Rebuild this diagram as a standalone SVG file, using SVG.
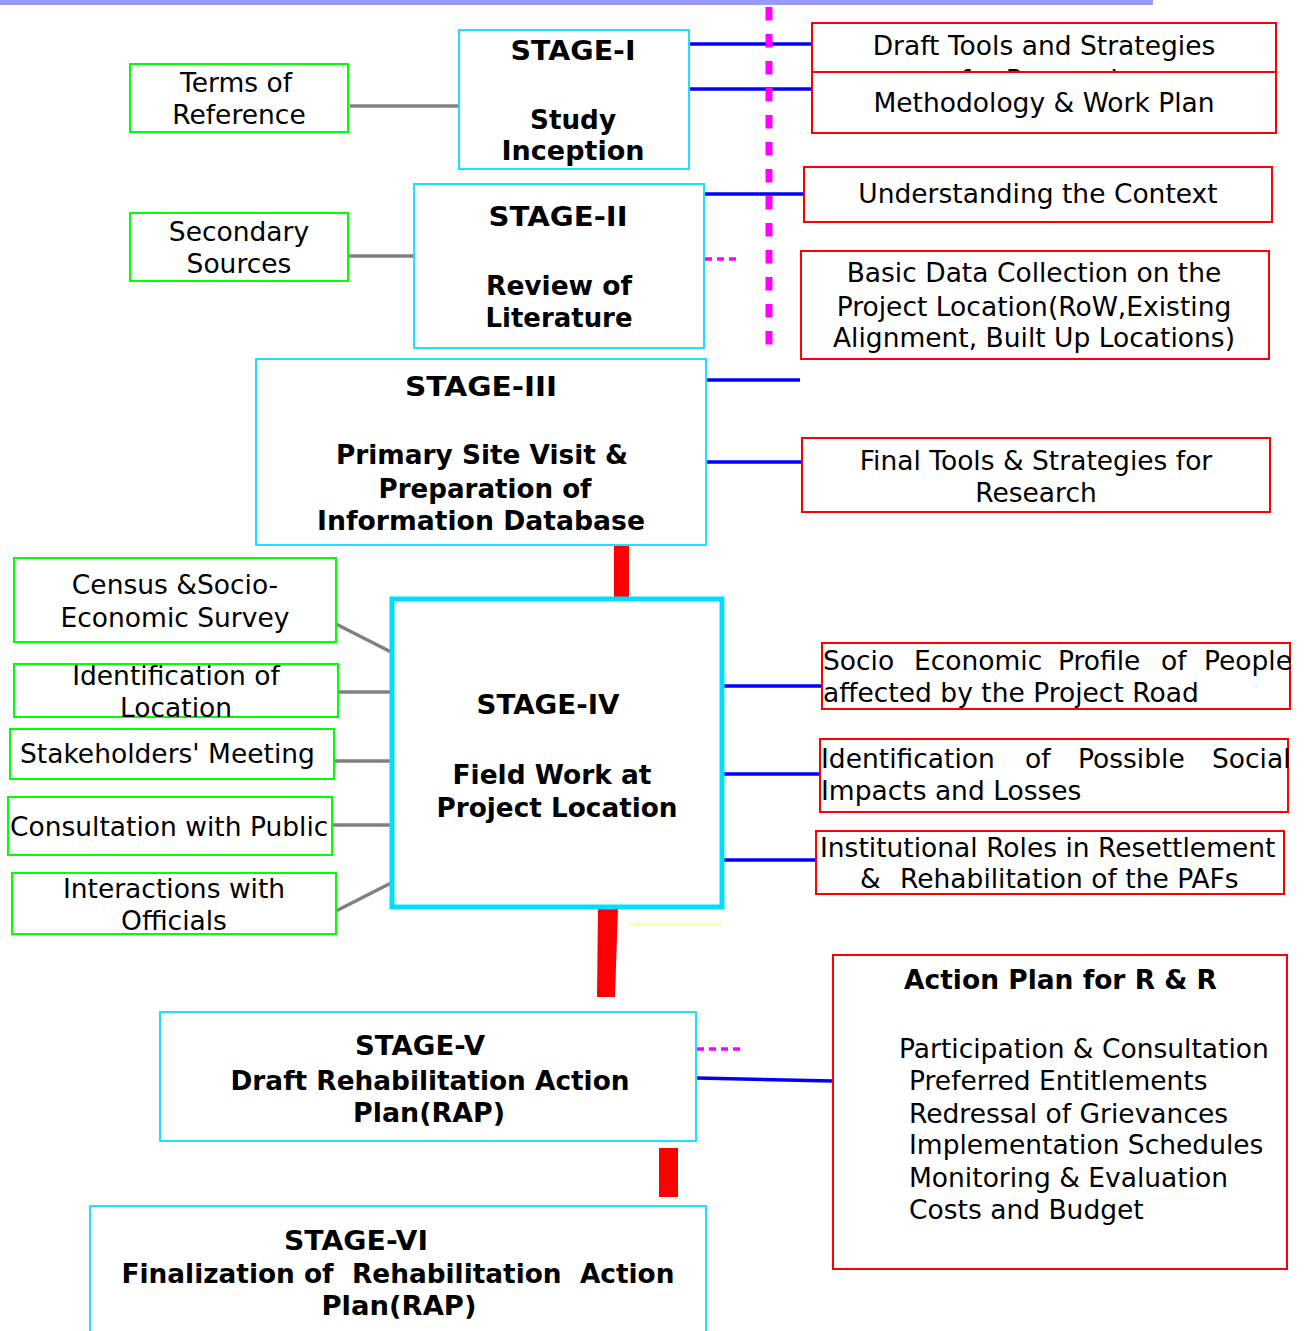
<svg xmlns="http://www.w3.org/2000/svg" width="1305" height="1331" viewBox="0 0 1305 1331">
<style>
.stage{fill:#fff;stroke:#1EE0FF;stroke-width:2}
.stage4{fill:#fff;stroke:#00DDFF;stroke-width:5}
.green{fill:#fff;stroke:#00FF00;stroke-width:2}
.red{fill:#fff;stroke:#FF0000;stroke-width:2}
text{font-family:"DejaVu Sans",Verdana,sans-serif;font-size:26.5px;fill:#000}
.b{font-weight:bold;font-size:26px}
.m{text-anchor:middle}
.pre{white-space:pre}
.blue{stroke:#0000FF;stroke-width:3.5;fill:none}
.gray{stroke:#808080;stroke-width:3.5;fill:none}
.mag{stroke:#FF00FF;fill:none}
.thick{fill:#FF0000}
</style>
<rect x="0" y="0" width="1153" height="5" fill="#9999FF"/>

<g id="connectors">
<line class="gray" x1="350" y1="106" x2="459" y2="106"/>
<line class="gray" x1="348" y1="256" x2="414" y2="256"/>
<line class="gray" x1="336" y1="624" x2="391" y2="652"/>
<line class="gray" x1="338" y1="692" x2="391" y2="692"/>
<line class="gray" x1="334" y1="761" x2="391" y2="761"/>
<line class="gray" x1="332" y1="825" x2="391" y2="825"/>
<line class="gray" x1="336" y1="911" x2="391" y2="883"/>
<line class="blue" x1="689" y1="44" x2="812" y2="44"/>
<line class="blue" x1="689" y1="89" x2="812" y2="89"/>
<line class="blue" x1="704" y1="194" x2="804" y2="194"/>
<line class="blue" x1="706" y1="380" x2="800" y2="380"/>
<line class="blue" x1="706" y1="462" x2="802" y2="462"/>
<line class="blue" x1="722" y1="686" x2="822" y2="686"/>
<line class="blue" x1="722" y1="774" x2="820" y2="774"/>
<line class="blue" x1="722" y1="860" x2="816" y2="860"/>
<line class="blue" x1="697" y1="1078" x2="833" y2="1081"/>
<line class="mag" x1="769" y1="7" x2="769" y2="346" stroke-width="7" stroke-dasharray="13.5 13.5"/>
<line class="mag" x1="705" y1="259" x2="740" y2="259" stroke-width="3.5" stroke-dasharray="7 5"/>
<line class="mag" x1="697" y1="1049" x2="745" y2="1049" stroke-width="3.5" stroke-dasharray="7 5"/>
<line x1="630" y1="924" x2="722" y2="924" stroke="#FFFF99" stroke-width="2"/>
<rect class="thick" x="614" y="545" width="15" height="55"/>
<polygon class="thick" points="598,907 618,907 615,997 597,997"/>
<rect class="thick" x="659" y="1148" width="19" height="49"/>
</g>

<g id="terms">
<rect class="green" x="130" y="64" width="218" height="68"/>
<text class="m" x="236" y="92">Terms of</text>
<text class="m" x="239" y="124">Reference</text>
</g>

<g id="stage1">
<rect class="stage" x="459" y="30" width="230" height="139"/>
<text class="b m" x="573" y="60" textLength="125" lengthAdjust="spacingAndGlyphs">STAGE-I</text>
<text class="b m" x="573" y="129" textLength="86" lengthAdjust="spacingAndGlyphs">Study</text>
<text class="b m" x="573" y="160" textLength="143" lengthAdjust="spacingAndGlyphs">Inception</text>
</g>

<g id="draft-tools">
<rect class="red" x="812" y="23" width="464" height="60"/>
<text class="m" x="1044" y="55">Draft Tools and Strategies</text>
<text class="m" x="1044" y="89">for Research</text>
</g>

<g id="methodology">
<rect class="red" x="812" y="72" width="464" height="61"/>
<text class="m" x="1044" y="112">Methodology &amp; Work Plan</text>
</g>

<g id="secondary">
<rect class="green" x="130" y="213" width="218" height="68"/>
<text class="m" x="239" y="241">Secondary</text>
<text class="m" x="239" y="273">Sources</text>
</g>

<g id="stage2">
<rect class="stage" x="414" y="184" width="290" height="164"/>
<text class="b m" x="558" y="226" textLength="139" lengthAdjust="spacingAndGlyphs">STAGE-II</text>
<text class="b m" x="559" y="295" textLength="146" lengthAdjust="spacingAndGlyphs">Review of</text>
<text class="b m" x="559" y="327" textLength="147" lengthAdjust="spacingAndGlyphs">Literature</text>
</g>

<g id="context">
<rect class="red" x="804" y="167" width="468" height="55"/>
<text class="m" x="1038" y="203">Understanding the Context</text>
</g>

<g id="basic-data">
<rect class="red" x="801" y="251" width="468" height="108"/>
<text class="m" x="1034" y="282">Basic Data Collection on the</text>
<text class="m" x="1034" y="316">Project Location(RoW,Existing</text>
<text class="m" x="1034" y="347">Alignment, Built Up Locations)</text>
</g>

<g id="stage3">
<rect class="stage" x="256" y="359" width="450" height="186"/>
<text class="b m" x="481" y="396" textLength="152" lengthAdjust="spacingAndGlyphs">STAGE-III</text>
<text class="b m" x="482" y="464" textLength="292" lengthAdjust="spacingAndGlyphs">Primary Site Visit &amp;</text>
<text class="b m" x="485" y="498" textLength="213" lengthAdjust="spacingAndGlyphs">Preparation of</text>
<text class="b m" x="481" y="530" textLength="328" lengthAdjust="spacingAndGlyphs">Information Database</text>
</g>

<g id="final-tools">
<rect class="red" x="802" y="438" width="468" height="74"/>
<text class="m" x="1036" y="470">Final Tools &amp; Strategies for</text>
<text class="m" x="1036" y="502">Research</text>
</g>

<g id="census">
<rect class="green" x="14" y="558" width="322" height="84"/>
<text class="m" x="175" y="594">Census &amp;Socio-</text>
<text class="m" x="175" y="627">Economic Survey</text>
</g>

<g id="identification-location">
<rect class="green" x="14" y="664" width="324" height="53"/>
<text class="m" x="176" y="685">Identification of</text>
<text class="m" x="176" y="717">Location</text>
</g>

<g id="stakeholders">
<rect class="green" x="10" y="729" width="324" height="50"/>
<text x="20" y="763">Stakeholders' Meeting</text>
</g>

<g id="consultation">
<rect class="green" x="8" y="797" width="324" height="58"/>
<text x="10" y="836">Consultation with Public</text>
</g>

<g id="interactions">
<rect class="green" x="12" y="873" width="324" height="61"/>
<text class="m" x="174" y="898">Interactions with</text>
<text class="m" x="174" y="930">Officials</text>
</g>

<g id="stage4">
<rect class="stage4" x="392" y="599" width="330" height="308"/>
<text class="b m" x="548" y="714" textLength="143" lengthAdjust="spacingAndGlyphs">STAGE-IV</text>
<text class="b m" x="552" y="784" textLength="199" lengthAdjust="spacingAndGlyphs">Field Work at</text>
<text class="b m" x="557" y="817" textLength="241" lengthAdjust="spacingAndGlyphs">Project Location</text>
</g>

<g id="socio-profile">
<rect class="red" x="822" y="643" width="468" height="66"/>
<text x="823" y="670">Socio</text>
<text x="914" y="670">Economic</text>
<text x="1058" y="670">Profile</text>
<text x="1161" y="670">of</text>
<text x="1204" y="670">People</text>
<text x="823" y="702">affected by the Project Road</text>
</g>

<g id="impacts">
<rect class="red" x="820" y="739" width="468" height="73"/>
<text x="821" y="768">Identification</text>
<text x="1025" y="768">of</text>
<text x="1078" y="768">Possible</text>
<text x="1212" y="768">Social</text>
<text x="821" y="800">Impacts and Losses</text>
</g>

<g id="institutional">
<rect class="red" x="816" y="831" width="468" height="63"/>
<text x="820" y="857">Institutional Roles in Resettlement</text>
<text x="860" y="888">&amp;</text>
<text x="900" y="888">Rehabilitation of the PAFs</text>
</g>

<g id="stage5">
<rect class="stage" x="160" y="1012" width="536" height="129"/>
<text class="b m" x="420" y="1055" textLength="130" lengthAdjust="spacingAndGlyphs">STAGE-V</text>
<text class="b m" x="430" y="1090" textLength="399" lengthAdjust="spacingAndGlyphs">Draft Rehabilitation Action</text>
<text class="b m" x="429" y="1122" textLength="152" lengthAdjust="spacingAndGlyphs">Plan(RAP)</text>
</g>

<g id="action-plan">
<rect class="red" x="833" y="955" width="454" height="314"/>
<text class="b" x="904" y="989" textLength="313" lengthAdjust="spacingAndGlyphs">Action Plan for R &amp; R</text>
<text x="899" y="1058">Participation &amp; Consultation</text>
<text x="909" y="1090">Preferred Entitlements</text>
<text x="909" y="1123">Redressal of Grievances</text>
<text x="909" y="1154">Implementation Schedules</text>
<text x="909" y="1187">Monitoring &amp; Evaluation</text>
<text x="909" y="1219">Costs and Budget</text>
</g>

<g id="stage6">
<rect class="stage" x="90" y="1206" width="616" height="140"/>
<text class="b m" x="356" y="1250" textLength="144" lengthAdjust="spacingAndGlyphs">STAGE-VI</text>
<text class="b m pre" x="398" y="1283" textLength="553" lengthAdjust="spacingAndGlyphs">Finalization of  Rehabilitation  Action</text>
<text class="b m" x="399" y="1315" textLength="155" lengthAdjust="spacingAndGlyphs">Plan(RAP)</text>
</g>
</svg>
